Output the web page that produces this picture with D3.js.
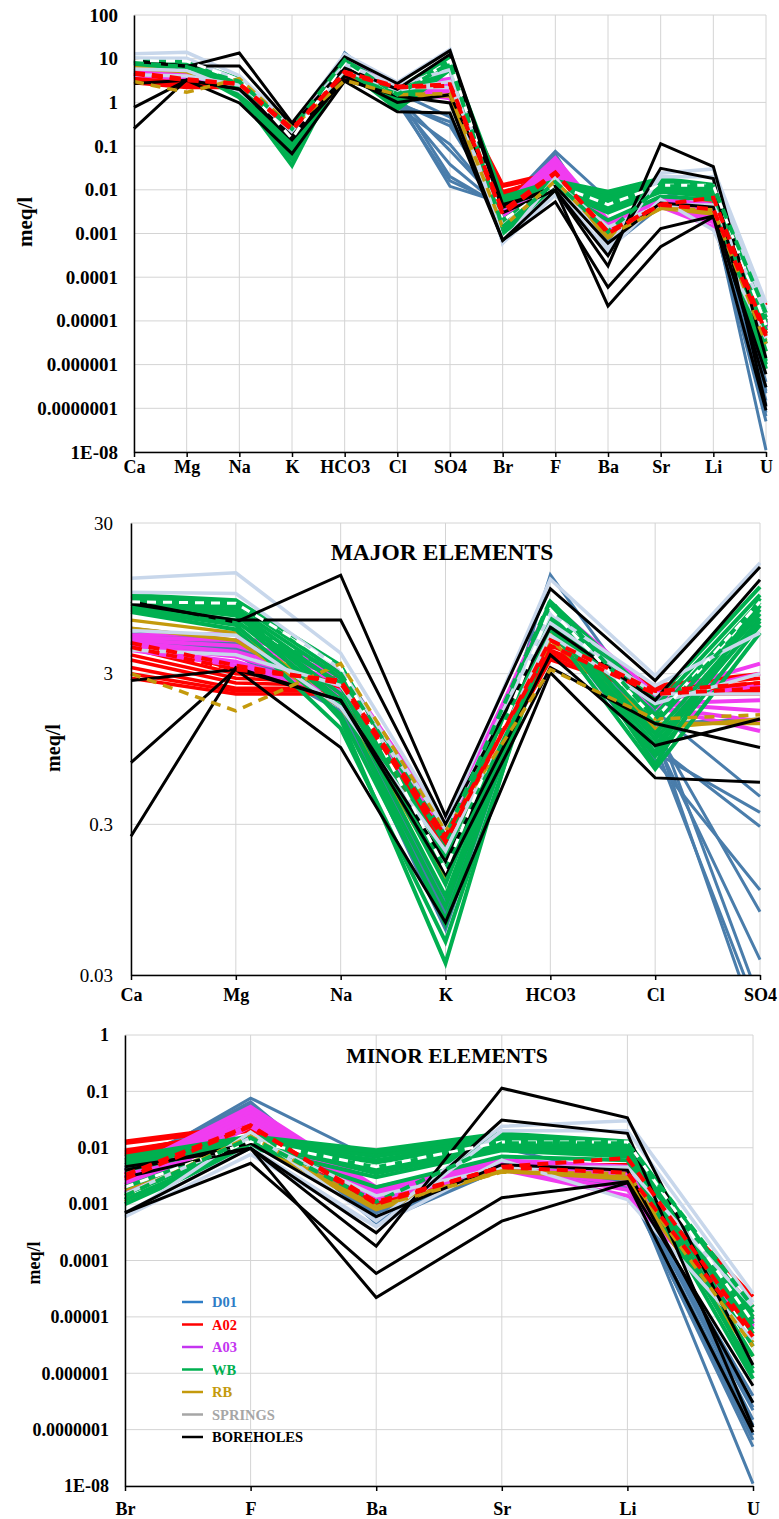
<!DOCTYPE html>
<html>
<head>
<meta charset="utf-8">
<script src="https://cdn.jsdelivr.net/npm/d3@7"></script>
<style>
  body { margin: 0; background: #fff; }
  svg { display: block; }
  .grid line { stroke: #d4d4d4; stroke-width: 1; }
  text { font-family: "Liberation Serif", "Times New Roman", serif; }
</style>
</head>
<body>
<div id="chart"></div>
<script>
// element order, shared by all three panels
var elements = ["Ca","Mg","Na","K","HCO3","Cl","SO4","Br","F","Ba","Sr","Li","U"];
var majorEls = ["Ca","Mg","Na","K","HCO3","Cl","SO4"];
var minorEls = ["Br","F","Ba","Sr","Li","U"];

// tick values + labels (Excel "General" format)
var ticksAll = [1e-8,1e-7,1e-6,1e-5,1e-4,1e-3,0.01,0.1,1,10,100];
var labelsAll = ["1E-08","0.0000001","0.000001","0.00001","0.0001","0.001","0.01","0.1","1","10","100"];
var ticksMajor = [0.03,0.3,3,30];
var labelsMajor = ["0.03","0.3","3","30"];
var ticksMinor = [1e-8,1e-7,1e-6,1e-5,1e-4,1e-3,0.01,0.1,1];
var labelsMinor = ["1E-08","0.0000001","0.000001","0.00001","0.0001","0.001","0.01","0.1","1"];

// meq/l, one row per sample, columns = elements
var d01 = [
  [5.5,4.8,2.0,0.08,13.6,1.5,0.020,0.004,0.076,0.006,0.010,0.003,1.1e-8],
  [5.0,4.5,1.9,0.07,9.0,1.2,0.012,0.005,0.060,0.0008,0.005,0.002,6.6e-8],
  [6.0,5.0,2.1,0.09,8.0,1.7,0.46,0.003,0.050,0.0006,0.004,0.0025,2.2e-7],
  [4.8,4.2,1.8,0.06,7.0,0.9,0.36,0.0045,0.045,0.0005,0.0045,0.003,1.5e-7],
  [5.2,4.6,2.0,0.075,7.5,1.0,0.29,0.0035,0.055,0.0007,0.004,0.002,3e-7],
  [4.6,4.0,1.7,0.065,6.5,0.8,0.11,0.004,0.040,0.00046,0.0042,0.0022,1.2e-7],
  [5.8,4.9,2.2,0.085,8.5,1.3,0.079,0.0042,0.065,0.0009,0.005,0.0028,2.5e-7],
  [5.3,4.4,1.9,0.07,7.2,1.1,0.038,0.0038,0.050,0.0006,0.0045,0.0024,8e-8],
  [5.0,4.3,1.9,0.08,7.0,1.4,1.5,0.004,0.050,0.0007,0.0045,0.0026,4e-7],
  [5.4,4.7,2.0,0.07,7.8,1.0,0.016,0.0045,0.058,0.0005,0.0048,0.0023,5e-8]
];
var a02 = [
  [4.9,3.2,2.8,0.28,5.0,2.5,3.0,0.013,0.025,0.0015,0.005,0.005,2.3e-5],
  [4.4,3.0,2.7,0.26,4.6,2.4,2.8,0.012,0.022,0.0013,0.0048,0.0045,1.5e-5],
  [4.0,2.8,2.6,0.25,4.3,2.3,2.6,0.009,0.020,0.0012,0.0045,0.0042,1e-5],
  [3.7,2.6,2.5,0.24,4.0,2.3,2.5,0.008,0.024,0.0011,0.005,0.004,8e-6],
  [3.3,2.4,2.4,0.22,3.8,2.2,2.3,0.007,0.021,0.001,0.0046,0.0038,6e-6],
  [3.0,2.3,2.3,0.21,3.7,2.2,2.2,0.0075,0.023,0.0012,0.0047,0.0044,7e-6],
  [2.8,2.2,2.2,0.20,4.2,2.3,2.4,0.0085,0.022,0.0011,0.0046,0.0041,9e-6]
];
var a03 = [
  [5.4,5.5,3.2,0.30,8.8,2.2,3.5,0.004,0.053,0.002,0.006,0.0046,9e-6],
  [5.2,5.0,3.0,0.29,8.0,2.1,3.0,0.0035,0.048,0.0019,0.0057,0.004,8.5e-6],
  [5.0,4.6,2.9,0.29,7.5,2.0,2.5,0.003,0.042,0.0017,0.0054,0.0033,8e-6],
  [4.8,4.2,2.7,0.28,7.0,1.9,2.0,0.0026,0.037,0.0016,0.005,0.0028,7.5e-6],
  [4.6,3.9,2.5,0.28,6.6,1.9,1.7,0.0022,0.032,0.0015,0.0047,0.0022,7e-6],
  [4.4,3.6,2.3,0.28,6.3,1.8,1.45,0.0019,0.027,0.0013,0.0043,0.0018,6.8e-6],
  [4.3,3.4,2.2,0.28,6.1,1.8,1.25,0.0016,0.024,0.0012,0.0041,0.0014,6.5e-6]
];
var wb = [
  [10.0,9.2,3.4,0.22,9.0,2.0,11.3,0.0069,0.016,0.009,0.018,0.013,1.2e-5],
  [9.6,8.8,3.0,0.18,8.5,1.8,10.0,0.006,0.015,0.008,0.016,0.012,1e-5],
  [9.3,8.2,2.8,0.15,8.0,1.6,9.0,0.0055,0.014,0.007,0.015,0.011,9e-6],
  [9.0,7.8,2.5,0.12,7.5,1.4,8.0,0.005,0.013,0.006,0.014,0.010,7.5e-6],
  [8.7,7.3,2.2,0.10,7.2,1.2,7.5,0.0015,0.012,0.0045,0.012,0.009,5e-6],
  [8.4,6.8,1.9,0.085,7.0,1.0,7.0,0.0012,0.011,0.004,0.011,0.008,2e-6],
  [8.0,6.3,1.6,0.07,6.5,0.85,6.3,0.001,0.010,0.003,0.009,0.007,1.2e-6],
  [7.7,5.9,1.3,0.05,6.0,0.7,5.6,0.0012,0.011,0.002,0.007,0.006,8e-7],
  [9.8,8.5,1.5,0.036,7.8,0.75,9.5,0.006,0.014,0.0085,0.017,0.012,1e-6],
  [9.1,7.6,2.0,0.065,6.8,0.9,8.5,0.004,0.012,0.0055,0.013,0.0095,3e-6],
  [8.2,6.6,2.6,0.14,7.6,1.1,6.7,0.002,0.013,0.0035,0.010,0.0075,6e-6]
];
var rb = [
  [6.8,5.6,2.0,0.13,5.5,1.4,1.4,0.0018,0.015,0.0009,0.004,0.003,3.5e-6],
  [6.0,5.0,1.8,0.15,5.0,1.3,1.5,0.0011,0.013,0.0008,0.0038,0.0028,2e-6]
];
var springs = [
  [12.9,14.0,4.1,0.30,12.7,2.9,16.3,0.0006,0.019,0.0005,0.024,0.030,2.6e-5],
  [10.4,10.2,3.2,0.28,7.5,2.5,5.6,0.0006,0.0076,0.0004,0.020,0.020,1.8e-5],
  [5.8,5.4,1.8,0.20,5.4,1.9,3.0,0.0007,0.010,0.0004,0.006,0.0012,4e-6],
  [4.3,4.0,2.5,0.30,6.5,2.2,2.2,0.0015,0.015,0.0014,0.0045,0.0045,1.5e-5]
];
var boreholes = [
  [9.0,6.6,13.5,0.34,11.0,2.7,15.3,0.0046,0.0098,0.00018,0.114,0.034,1.4e-6],
  [8.7,6.8,6.8,0.30,6.1,2.0,12.6,0.003,0.0098,0.00031,0.031,0.018,1.1e-7],
  [2.7,3.2,0.97,0.067,3.05,0.61,0.57,0.0007,0.0053,0.000059,0.0013,0.0025,6e-7],
  [0.77,3.2,2.0,0.14,3.3,1.4,0.97,0.0007,0.0098,0.000022,0.0005,0.0024,9e-8],
  [0.25,3.3,2.0,0.17,4.0,1.0,1.5,0.004,0.012,0.0006,0.005,0.004,3e-7]
];
// dashed reference lines
var a02Dashed = [
  [4.8,3.4,2.6,0.23,5.0,2.3,2.6,0.0033,0.025,0.001,0.0046,0.0066,5.2e-6],
  [4.5,3.2,2.7,0.25,4.6,2.2,2.4,0.0028,0.024,0.0011,0.0045,0.0036,4.5e-6]
];
var wbDashed = [[8.0,6.5,3.0,0.25,9.2,1.5,8.0,0.0014,0.015,0.0011,0.012,0.012,1.5e-5]];
var rbDashed = [[3.0,1.7,3.5,0.27,3.2,1.5,1.6,0.0014,0.016,0.0009,0.0037,0.0035,3e-6]];
var whiteDashed = [[9.0,8.8,3.3,0.15,8.0,1.5,9.0,0.002,0.013,0.0046,0.0127,0.0127,8e-6]];

var legendNames = ["D01","A02","A03","WB","RB","SPRINGS","BOREHOLES"];
var legendColors = ["#2e7dc6","#ff0000","#c435f0","#00b050","#c49a0c","#a6a6a6","#000000"];

// drawing order: bottom -> top
var series = [
  { rows: d01, color: "#4a7dab", w: 3 },
  { rows: a02, color: "#ff0000", w: 3.5 },
  { rows: a03, color: "#f03cf0", w: 4 },
  { rows: rb, color: "#c49a0c", w: 3.5 },
  { rows: wb, color: "#00b050", w: 4 },
  { rows: springs, color: "#c8d7eb", w: 3.5 },
  { rows: boreholes, color: "#000000", w: 3 },
  { rows: whiteDashed, color: "#ffffff", w: 3, dash: "9,7" },
  { rows: rbDashed, color: "#c49a0c", w: 3.5, dash: "10,7" },
  { rows: wbDashed, color: "#00b050", w: 4, dash: "10,7" },
  { rows: a02Dashed, color: "#ff0000", w: 4, dash: "11,7" }
];

var svg = d3.select("#chart").append("svg")
  .attr("width", 779)
  .attr("height", 1519);

function drawPanel(p) {
  var x = d3.scalePoint().domain(p.els).range([p.left, p.right]);
  var y = d3.scaleLog().domain(p.domain).range([p.bottom, p.top]);
  var g = svg.append("g");

  // gridlines
  var grid = g.append("g").attr("class", "grid");
  grid.selectAll(".h").data(p.ticks).enter().append("line")
    .attr("x1", p.left).attr("x2", p.right)
    .attr("y1", function(d) { return y(d); }).attr("y2", function(d) { return y(d); });
  grid.selectAll(".v").data(p.els).enter().append("line")
    .attr("x1", function(d) { return x(d); }).attr("x2", function(d) { return x(d); })
    .attr("y1", p.top).attr("y2", p.bottom);

  // lines, clipped to the plot area
  var clipId = "clip" + p.id;
  svg.append("clipPath").attr("id", clipId).append("rect")
    .attr("x", p.left - 2).attr("y", p.top).attr("width", p.right - p.left + 4).attr("height", p.bottom - p.top);
  var lines = g.append("g").attr("clip-path", "url(#" + clipId + ")");
  var idx = p.els.map(function(e) { return elements.indexOf(e); });
  var line = d3.line()
    .x(function(d, i) { return x(p.els[i]); })
    .y(function(d) { return y(d); });

  series.forEach(function(s) {
    lines.selectAll(null).data(s.rows).enter().append("path")
      .attr("d", function(r) { return line(idx.map(function(k) { return r[k]; })); })
      .attr("fill", "none")
      .attr("stroke", s.color)
      .attr("stroke-width", s.w)
      .attr("stroke-linejoin", "miter")
      .attr("stroke-dasharray", s.dash || null);
  });

  // axes
  var yAxis = d3.axisLeft(y).tickValues(p.ticks)
    .tickFormat(function(d, i) { return p.labels[i]; })
    .tickSize(0).tickPadding(p.ypad);
  var ya = g.append("g").attr("transform", "translate(" + p.left + ",0)").call(yAxis);
  ya.select(".domain").attr("stroke", "#000").attr("stroke-width", 1.5);
  ya.selectAll("text").attr("font-family", "Liberation Serif").attr("font-size", p.yfont)
    .attr("font-weight", p.ybold ? "bold" : "normal").attr("fill", "#000");

  var xAxis = d3.axisBottom(x).tickSize(5).tickSizeOuter(0).tickPadding(p.xpad);
  var xa = g.append("g").attr("transform", "translate(0," + p.bottom + ")").call(xAxis);
  xa.select(".domain").attr("stroke", "#000").attr("stroke-width", 1.5);
  xa.selectAll("line").attr("stroke", "#000").attr("stroke-width", 1.5);
  xa.selectAll("text").attr("font-family", "Liberation Serif").attr("font-size", p.xfont)
    .attr("font-weight", "bold").attr("fill", "#000");

  // y label
  g.append("text")
    .attr("transform", "translate(" + p.labelX + "," + p.labelY + ") rotate(-90)")
    .attr("text-anchor", "middle").attr("dy", "0.35em")
    .attr("font-size", p.labelFont).attr("font-weight", "bold")
    .text("meq/l");

  if (p.title) {
    g.append("text").attr("x", p.title.x).attr("y", p.title.y)
      .attr("text-anchor", "middle").attr("font-size", p.title.size).attr("font-weight", "bold")
      .text(p.title.text);
  }
  return { x: x, y: y, g: g };
}

drawPanel({ id: 1, els: elements, domain: [1e-8, 100], ticks: ticksAll, labels: labelsAll,
  left: 134, right: 766, top: 15, bottom: 452, ypad: 16, yfont: 19, ybold: true,
  xpad: 3, xfont: 18, labelX: 25, labelY: 222, labelFont: 21 });

drawPanel({ id: 2, els: majorEls, domain: [0.03, 30], ticks: ticksMajor, labels: labelsMajor,
  left: 131, right: 760, top: 523, bottom: 975, ypad: 18, yfont: 19, ybold: false,
  xpad: 8, xfont: 18, labelX: 53, labelY: 748, labelFont: 20,
  title: { text: "MAJOR ELEMENTS", x: 442, y: 560, size: 23.5 } });

drawPanel({ id: 3, els: minorEls, domain: [1e-8, 1], ticks: ticksMinor, labels: labelsMinor,
  left: 125, right: 753, top: 1035, bottom: 1486, ypad: 16, yfont: 18, ybold: true,
  xpad: 11, xfont: 18, labelX: 34, labelY: 1263, labelFont: 18,
  title: { text: "MINOR ELEMENTS", x: 447, y: 1063, size: 21.5 } });

// legend
var legend = svg.append("g").attr("transform", "translate(182,1302)");
legendNames.forEach(function(name, i) {
  var row = legend.append("g").attr("transform", "translate(0," + (i * 22.5) + ")");
  row.append("line").attr("x1", 0).attr("x2", 21).attr("y1", 0).attr("y2", 0)
    .attr("stroke", legendColors[i]).attr("stroke-width", 2.5);
  row.append("text").attr("x", 30).attr("y", 0).attr("dy", "0.35em")
    .attr("font-size", 14.5).attr("font-weight", "bold").attr("fill", legendColors[i])
    .text(name);
});
</script>
</body>
</html>
